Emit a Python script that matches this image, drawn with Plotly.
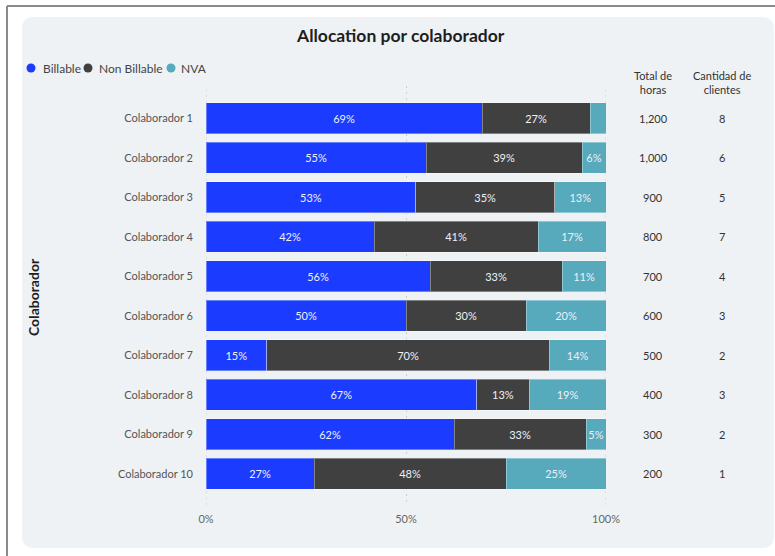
import plotly.graph_objects as go

# --- data -------------------------------------------------------------
colaboradores = [f"Colaborador {i}" for i in range(1, 11)]
billable = [69, 55, 53, 42, 56, 50, 15, 67, 62, 27]
non_billable = [27, 39, 35, 41, 33, 30, 70, 13, 33, 48]
nva = [4, 6, 13, 17, 11, 20, 14, 19, 5, 25]
total_horas = [1200, 1000, 900, 800, 700, 600, 500, 400, 300, 200]
cantidad_clientes = [8, 6, 5, 7, 4, 3, 2, 3, 2, 1]
x_ticks = [0, 50, 100]
x_tick_labels = ["0%", "50%", "100%"]

series = [
    ("Billable", billable, "#1b3cff"),
    ("Non Billable", non_billable, "#404040"),
    ("NVA", nva, "#57a9bc"),
]

# --- canvas geometry (pixels) -----------------------------------------
W, H = 775, 556
PL, PR, PT, PB = 206, 606, 86, 505   # plot area edges


def px_x(px):
    return (px - PL) / (PR - PL)


def px_y(py):
    return (PB - py) / (PB - PT)


FONT = "Lato"
GRID_COLOR = "#c9ced3"
GRID_DASH = "2px,4px"

fig = go.Figure()

for name, vals, color in series:
    fig.add_trace(go.Bar(
        name=name,
        y=colaboradores,
        x=vals,
        orientation="h",
        marker=dict(color=color, line=dict(color="rgba(255,255,255,0.35)", width=1)),
        text=[f"{v}%" if v >= 5 else "" for v in vals],
        textposition="inside",
        insidetextanchor="middle",
        textangle=0,
        textfont=dict(family=FONT, size=11, color="#eef0f8"),
        width=0.79,
        showlegend=False,
        hoverinfo="skip",
    ))

shapes = []
annotations = []

# outer frame lines
shapes.append(dict(type="line", xref="paper", yref="paper",
                   x0=px_x(7), x1=px_x(W + 5), y0=px_y(6), y1=px_y(6),
                   line=dict(color="#8a8a8a", width=2), layer="below"))
shapes.append(dict(type="line", xref="paper", yref="paper",
                   x0=px_x(7), x1=px_x(7), y0=px_y(6), y1=px_y(H + 5),
                   line=dict(color="#8a8a8a", width=2), layer="below"))

# rounded background panel
x0, x1, y0, y1, r = 22, 774, 17, 548, 12
rx = r / (PR - PL)
ry = r / (PB - PT)
X0, X1 = px_x(x0), px_x(x1)
Y0, Y1 = px_y(y1), px_y(y0)  # bottom, top in paper coords
path = (
    f"M {X0 + rx},{Y0} L {X1 - rx},{Y0} Q {X1},{Y0} {X1},{Y0 + ry} "
    f"L {X1},{Y1 - ry} Q {X1},{Y1} {X1 - rx},{Y1} "
    f"L {X0 + rx},{Y1} Q {X0},{Y1} {X0},{Y1 - ry} "
    f"L {X0},{Y0 + ry} Q {X0},{Y0} {X0 + rx},{Y0} Z"
)
shapes.append(dict(type="path", xref="paper", yref="paper", path=path,
                   fillcolor="#eef2f5", line=dict(width=0), layer="below"))

# dotted gridlines on the range edges (plotly skips them at the axis ends)
for xv in (x_ticks[0], x_ticks[-1]):
    shapes.append(dict(type="line", xref="x", yref="paper", x0=xv, x1=xv, y0=0, y1=1,
                       line=dict(color=GRID_COLOR, width=1, dash=GRID_DASH), layer="below"))

# title
annotations.append(dict(text="<b>Allocation por colaborador</b>", xref="paper", yref="paper",
                        x=px_x(400), y=px_y(35), showarrow=False,
                        font=dict(family=FONT, size=17.5, color="#1e1e1e"),
                        xanchor="center", yanchor="middle"))

# legend drawn as dots + labels
legend_pos = [(31, 41), (88, 97), (171, 179)]
for (name, _, color), (cx, tx) in zip(series, legend_pos):
    shapes.append(dict(type="circle", xref="paper", yref="paper",
                       xsizemode="pixel", ysizemode="pixel",
                       xanchor=px_x(cx), yanchor=px_y(68),
                       x0=-4.5, x1=4.5, y0=-4.5, y1=4.5,
                       fillcolor=color, line=dict(width=0)))
    annotations.append(dict(text=name, xref="paper", yref="paper",
                            x=px_x(tx), y=px_y(68), showarrow=False,
                            xanchor="left", yanchor="middle",
                            font=dict(family=FONT, size=12, color="#444444")))

# y-axis title
annotations.append(dict(text="<b>Colaborador</b>", xref="paper", yref="paper",
                        x=px_x(33), y=px_y(297), showarrow=False, textangle=-90,
                        xanchor="center", yanchor="middle",
                        font=dict(family=FONT, size=14, color="#1e1e1e")))

# side table columns
COL_HORAS, COL_CLIENTES = 653, 722
annotations.append(dict(text="Total de<br>horas", xref="paper", yref="paper",
                        x=px_x(COL_HORAS), y=px_y(82), showarrow=False,
                        xanchor="center", yanchor="middle",
                        font=dict(family=FONT, size=11, color="#333333")))
annotations.append(dict(text="Cantidad de<br>clientes", xref="paper", yref="paper",
                        x=px_x(COL_CLIENTES), y=px_y(82), showarrow=False,
                        xanchor="center", yanchor="middle",
                        font=dict(family=FONT, size=11, color="#333333")))
for name, h, c in zip(colaboradores, total_horas, cantidad_clientes):
    annotations.append(dict(text=f"{h:,}", xref="paper", yref="y",
                            x=px_x(COL_HORAS), y=name, showarrow=False,
                            xanchor="center", yanchor="middle",
                            font=dict(family=FONT, size=11, color="#333333")))
    annotations.append(dict(text=str(c), xref="paper", yref="y",
                            x=px_x(COL_CLIENTES), y=name, showarrow=False,
                            xanchor="center", yanchor="middle",
                            font=dict(family=FONT, size=11, color="#333333")))

fig.update_layout(
    width=W, height=H,
    margin=dict(l=PL, r=W - PR, t=PT, b=H - PB, pad=0),
    barmode="stack",
    barnorm="percent",
    paper_bgcolor="white",
    plot_bgcolor="rgba(0,0,0,0)",
    showlegend=False,
    shapes=shapes,
    annotations=annotations,
    font=dict(family=FONT),
    uniformtext=dict(minsize=11, mode="show"),
    xaxis=dict(
        range=[0, 100],
        tickvals=x_ticks,
        ticktext=x_tick_labels,
        showgrid=True,
        gridcolor=GRID_COLOR,
        griddash=GRID_DASH,
        gridwidth=1,
        zeroline=False,
        showline=False,
        ticks="",
        ticklabelstandoff=6,
        tickfont=dict(family=FONT, size=11, color="#666666"),
        fixedrange=True,
    ),
    yaxis=dict(
        categoryorder="array",
        categoryarray=colaboradores,
        range=[9.79, -0.82],
        showgrid=False,
        zeroline=False,
        showline=False,
        ticks="",
        ticklabelstandoff=12,
        tickfont=dict(family=FONT, size=11, color="#555555"),
        fixedrange=True,
    ),
)

fig.write_html("out.html")
